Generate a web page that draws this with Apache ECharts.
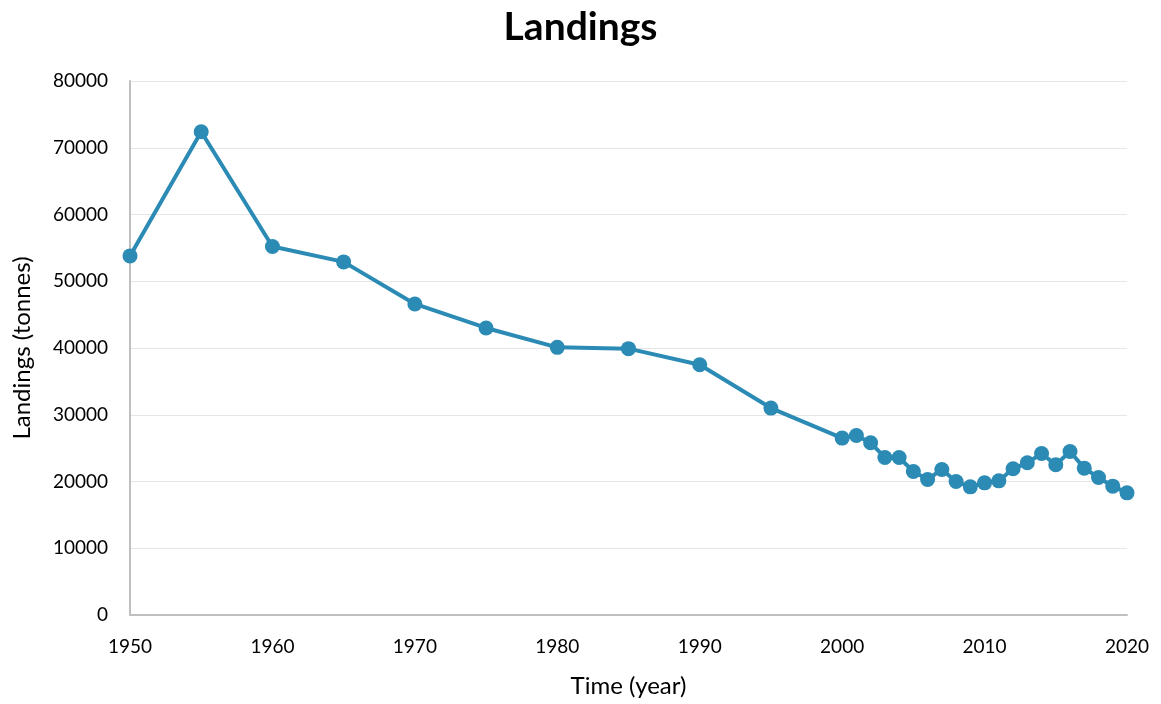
<!DOCTYPE html>
<html>
<head>
<meta charset="utf-8">
<style>
  html, body { margin: 0; padding: 0; background: #fff; }
  #chart { width: 1161px; height: 704px; }
</style>
<script src="https://cdn.jsdelivr.net/npm/echarts@6/dist/echarts.min.js"></script>
</head>
<body>
<div id="chart"></div>
<script>
// Annual landings in tonnes
const years = [1950, 1955, 1960, 1965, 1970, 1975, 1980, 1985, 1990, 1995,
  2000, 2001, 2002, 2003, 2004, 2005, 2006, 2007, 2008, 2009, 2010,
  2011, 2012, 2013, 2014, 2015, 2016, 2017, 2018, 2019, 2020];
const landings = [53800, 72400, 55200, 52900, 46600, 43000, 40100, 39900, 37500, 31000,
  26500, 26900, 25800, 23600, 23600, 21500, 20300, 21800, 20000, 19200, 19800,
  20100, 21900, 22800, 24200, 22500, 24500, 22000, 20600, 19300, 18300];
const yTicks = [0, 10000, 20000, 30000, 40000, 50000, 60000, 70000, 80000];
const xTicks = [1950, 1960, 1970, 1980, 1990, 2000, 2010, 2020];

const font = 'Lato, "Open Sans", sans-serif';
const chart = echarts.init(document.getElementById('chart'));
chart.setOption({
  animation: false,
  title: {
    text: 'Landings',
    left: 'center',
    top: 3,
    textStyle: { fontFamily: font, fontSize: 39, fontWeight: 'bold', color: '#000' }
  },
  grid: { left: 130, right: 34, top: 81, bottom: 89, outerBoundsMode: 'none', containLabel: false },
  xAxis: {
    type: 'value',
    min: xTicks[0],
    max: xTicks[xTicks.length - 1],
    interval: 10,
    name: 'Time (year)',
    nameLocation: 'middle',
    nameGap: 59,
    nameTextStyle: { fontFamily: font, fontSize: 24, color: '#000' },
    axisLine: { lineStyle: { color: '#bfbfbf', width: 2 } },
    axisTick: { show: false },
    splitLine: { show: false },
    axisLabel: { fontFamily: font, fontSize: 19, color: '#000', margin: 22, formatter: v => String(v) }
  },
  yAxis: {
    type: 'value',
    min: yTicks[0],
    max: yTicks[yTicks.length - 1],
    interval: 10000,
    name: 'Landings (tonnes)',
    nameLocation: 'middle',
    nameGap: 96,
    nameTextStyle: { fontFamily: font, fontSize: 24, color: '#000' },
    axisLine: { show: true, lineStyle: { color: '#bfbfbf', width: 2 } },
    axisTick: { show: false },
    splitLine: { lineStyle: { color: '#e6e6e6', width: 1 } },
    axisLabel: { fontFamily: font, fontSize: 19, color: '#000', margin: 22, formatter: v => String(v) }
  },
  series: [{
    type: 'line',
    data: years.map((y, i) => [y, landings[i]]),
    symbol: 'circle',
    symbolSize: 15,
    lineStyle: { color: '#2b8bb5', width: 4 },
    itemStyle: { color: '#2b8bb5' },
    clip: false
  }]
});
</script>
</body>
</html>
